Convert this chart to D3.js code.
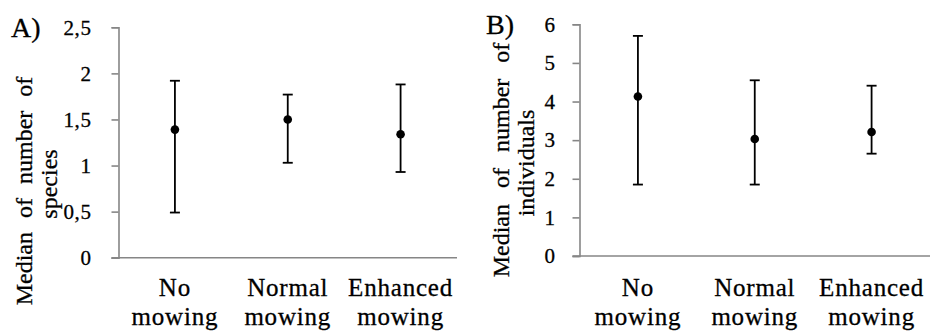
<!DOCTYPE html>
<html>
<head>
<meta charset="utf-8">
<script src="https://cdn.jsdelivr.net/npm/d3@7"></script>
<style>
  body { margin: 0; background: #fff; }
  svg text { font-family: "Times New Roman", "Liberation Serif", "DejaVu Serif", serif; fill: #000; stroke: #000; stroke-width: 0.3px; }
</style>
</head>
<body>
<div id="chart"></div>
<script>
const categories = ["No mowing", "Normal mowing", "Enhanced mowing"];

// A) species
const speciesMedian = [1.39, 1.50, 1.34];
const speciesLow = [0.49, 1.03, 0.93];
const speciesHigh = [1.92, 1.77, 1.88];
const speciesTicks = [0, 0.5, 1, 1.5, 2, 2.5];

// B) individuals
const indivMedian = [4.13, 3.03, 3.21];
const indivLow = [1.85, 1.85, 2.65];
const indivHigh = [5.70, 4.55, 4.41];
const indivTicks = [0, 1, 2, 3, 4, 5, 6];

const width = 930, height = 331;
const serif = '"Times New Roman", "Liberation Serif", "DejaVu Serif", serif';

const svg = d3.select("#chart")
  .append("svg")
  .attr("width", width)
  .attr("height", height)
  .style("font-family", serif);

function drawPanel(opt) {
  const g = svg.append("g");

  const x = d3.scaleBand()
    .domain(categories)
    .range([opt.left, opt.right]);

  const y = d3.scaleLinear()
    .domain([0, opt.max])
    .range([opt.bottom, opt.top]);

  // y axis
  const yAxis = g.append("g")
    .attr("transform", `translate(${opt.left},0)`)
    .call(d3.axisLeft(y)
      .tickValues(opt.ticks)
      .tickSize(7)
      .tickPadding(opt.pad)
      .tickFormat(d => String(d).replace(".", ",")));
  yAxis.attr("font-family", null);
  yAxis.select(".domain").attr("stroke", "#868686").attr("stroke-width", 1.6);
  yAxis.selectAll(".tick line").attr("stroke", "#868686").attr("stroke-width", 1.6);
  yAxis.selectAll(".tick text")
    .attr("fill", "#000")
    .style("font-size", "21px")
    .style("letter-spacing", "0.6px")
    .style("font-family", serif);

  // x axis line
  g.append("line")
    .attr("x1", opt.left - 7).attr("x2", opt.right)
    .attr("y1", y(0)).attr("y2", y(0))
    .attr("stroke", "#868686").attr("stroke-width", 1.6);

  // category labels, two lines
  const lab = g.append("g")
    .selectAll("text")
    .data(categories)
    .join("text")
    .attr("text-anchor", "middle")
    .style("font-family", serif)
    .style("font-size", "25px")
    .style("letter-spacing", "0.8px");
  lab.each(function(d) {
    const words = d.split(" ");
    const t = d3.select(this);
    words.forEach((w, i) => {
      t.append("tspan")
        .attr("x", x(d) + x.bandwidth() / 2)
        .attr("y", 296 + i * 29)
        .text(w);
    });
  });

  // error bars
  const cx = d => x(d) + x.bandwidth() / 2;
  const bars = g.append("g")
    .selectAll("g")
    .data(categories.map((c, i) => ({ c, m: opt.median[i], lo: opt.low[i], hi: opt.high[i] })))
    .join("g");
  bars.append("line")
    .attr("x1", d => cx(d.c)).attr("x2", d => cx(d.c))
    .attr("y1", d => y(d.lo)).attr("y2", d => y(d.hi))
    .attr("stroke", "#000").attr("stroke-width", 1.8);
  bars.append("line")
    .attr("x1", d => cx(d.c) - 5).attr("x2", d => cx(d.c) + 5)
    .attr("y1", d => y(d.hi)).attr("y2", d => y(d.hi))
    .attr("stroke", "#000").attr("stroke-width", 1.8);
  bars.append("line")
    .attr("x1", d => cx(d.c) - 5).attr("x2", d => cx(d.c) + 5)
    .attr("y1", d => y(d.lo)).attr("y2", d => y(d.lo))
    .attr("stroke", "#000").attr("stroke-width", 1.8);
  bars.append("circle")
    .attr("cx", d => cx(d.c))
    .attr("cy", d => y(d.m))
    .attr("r", 4.3)
    .attr("fill", "#000");

  // panel letter
  g.append("text")
    .attr("x", opt.letterX)
    .attr("y", opt.letterY)
    .style("font-family", serif)
    .style("font-size", "28px")
    .text(opt.letter);

  // y title, two lines
  const title = g.append("text")
    .attr("transform", `translate(${opt.titleX},${opt.titleY}) rotate(-90)`)
    .attr("text-anchor", "middle")
    .style("font-family", serif)
    .style("font-size", "24px")
    .style("word-spacing", opt.wordSpace + "px");
  title.append("tspan").attr("x", 0).attr("y", 0).text(opt.title[0]);
  title.append("tspan").attr("x", opt.title2dx).attr("y", 25).text(opt.title[1]);
}

drawPanel({
  left: 118.5, right: 457, top: 27.3, bottom: 257.7, max: 2.5, ticks: speciesTicks,
  pad: 20, median: speciesMedian, low: speciesLow, high: speciesHigh,
  letter: "A)", letterX: 11, letterY: 37,
  title: ["Median of number of", "species"], titleX: 32, titleY: 191, title2dx: 7, wordSpace: 8
});

drawPanel({
  left: 579.5, right: 930, top: 24.3, bottom: 256, max: 6, ticks: indivTicks,
  pad: 17, median: indivMedian, low: indivLow, high: indivHigh,
  letter: "B)", letterX: 486, letterY: 34,
  title: ["Median of number of", "individuals"], titleX: 509, titleY: 160, title2dx: -3, wordSpace: 10
});
</script>
</body>
</html>
